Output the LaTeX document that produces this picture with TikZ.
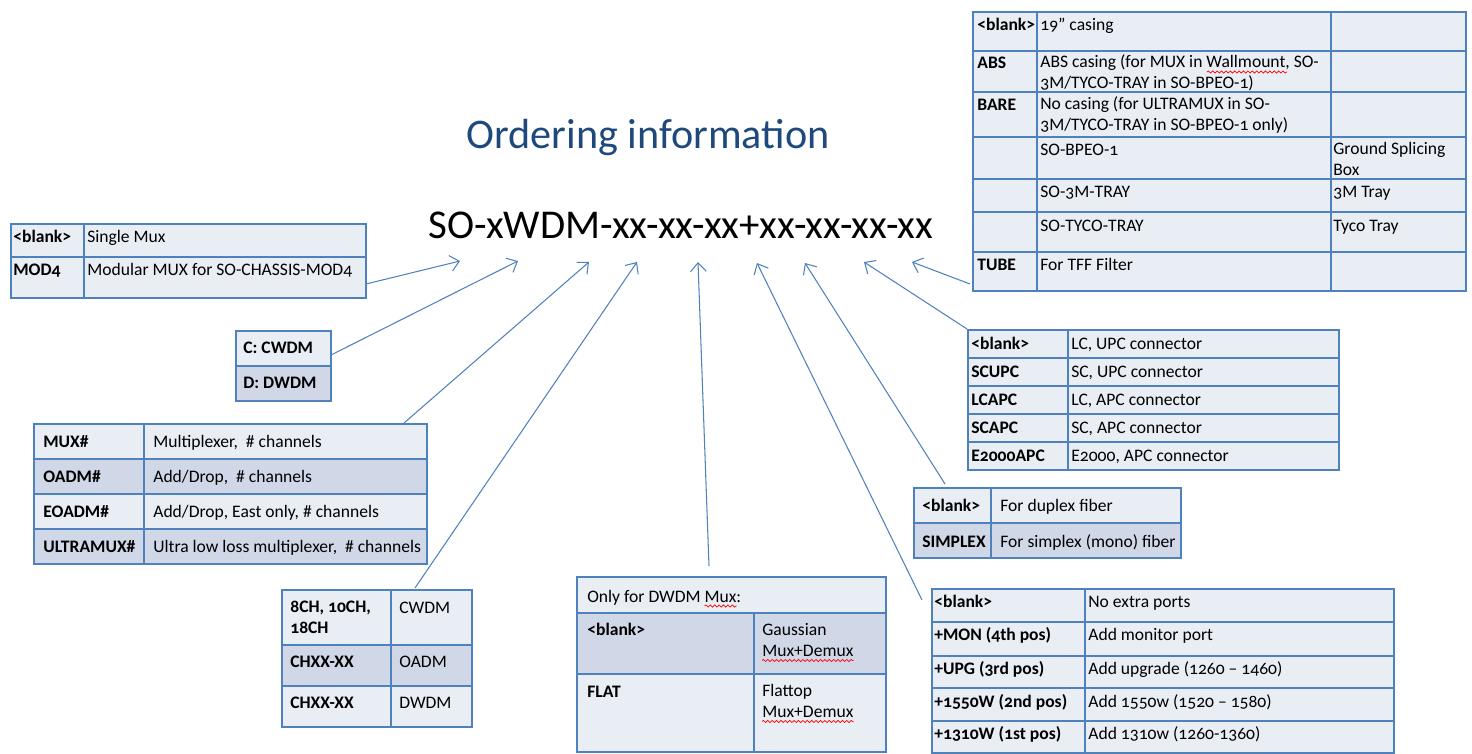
\documentclass[tikz,border=0pt]{standalone}
\usepackage{fontspec}
\setmainfont{Carlito}[Numbers=OldStyle]
\usetikzlibrary{arrows.meta,calc,decorations.pathmorphing}
\definecolor{tblue}{RGB}{79,129,189}
\definecolor{tlight}{RGB}{233,237,244}
\definecolor{tdark}{RGB}{208,216,232}
\definecolor{ttitle}{RGB}{31,73,125}
\tikzset{tline/.style={draw=tblue,line width=1.1pt}}
\tikzset{light/.style={fill=tlight}}
\tikzset{dark/.style={fill=tdark}}
\tikzset{txt/.style={anchor=base west,inner sep=0pt,align=left,font=\fontsize{10}{11.4}\selectfont}}
\tikzset{hd/.style={txt,font=\fontsize{10}{11.4}\selectfont\bfseries}}
\tikzset{link/.style={-{Straight Barb[length=5pt,width=9pt]},draw=tblue,line width=0.6pt}}
\tikzset{spell/.style={draw=red,line width=0.4pt,decorate,decoration={snake,amplitude=0.6pt,segment length=2.5pt}}}

\begin{document}
\begin{tikzpicture}[x=0.02cm,y=-0.02cm]
  \useasboundingbox (0,0) rectangle (1472,754);

  \node[font=\fontsize{24}{28}\selectfont,text=ttitle,anchor=base,inner sep=0pt] (title) at (648,148) {Ordering information};
  \node[font=\fontsize{23.3}{26}\selectfont,anchor=base west,inner sep=0pt] (code) at (428,238) {SO-xWDM-xx-xx-xx+xx-xx-xx-xx};

  % mux type
  \fill[light] (11,224) rectangle (366,298);
  \draw[tline] (11,224) rectangle (366,298) (84,224) -- (84,298) (11,257) -- (366,257);
  \node[hd] (mtA1) at (13,242) {<blank>};
  \node[txt] (mtB1) at (87,242) {Single Mux};
  \node[hd] (mtA2) at (13,275) {MOD4};
  \node[txt] (mtB2) at (87,275) {Modular MUX for SO-CHASSIS-MOD4};

  % technology
  \fill[light] (236,331) rectangle (331,366);
  \fill[dark] (236,366) rectangle (331,401);
  \draw[tline] (236,331) rectangle (331,401) (236,366) -- (331,366);
  \node[hd] (tech1) at (243,353) {C: CWDM};
  \node[hd] (tech2) at (243,388) {D: DWDM};

  % function
  \fill[light] (34,424) rectangle (427,564);
  \fill[dark] (34,459) rectangle (427,494) (34,529) rectangle (427,564);
  \draw[tline] (34,424) rectangle (427,564) (144,424) -- (144,564);
  \foreach \y in {459,494,529}
    \draw[tline] (34,\y) -- (427,\y);
  \node[hd] (fnA1) at (43,447) {MUX\#};
  \node[txt] (fnB1) at (153,447) {Multiplexer, \ \# channels};
  \node[hd] (fnA2) at (43,482) {OADM\#};
  \node[txt] (fnB2) at (153,482) {Add/Drop, \ \# channels};
  \node[hd] (fnA3) at (43,517) {EOADM\#};
  \node[txt] (fnB3) at (153,517) {Add/Drop, East only, \# channels};
  \node[hd] (fnA4) at (43,552) {ULTRAMUX\#};
  \node[txt] (fnB4) at (153,552) {Ultra low loss multiplexer, \ \# channels};

  % channels
  \fill[light] (282,590) rectangle (472,727);
  \fill[dark] (282,645) rectangle (472,686);
  \draw[tline] (282,590) rectangle (472,727) (391,590) -- (391,727)
    (282,645) -- (472,645) (282,686) -- (472,686);
  \node[hd] (chA1) at (290,633) {8CH, 10CH,\\18CH};
  \node[txt] (chB1) at (399,613) {CWDM};
  \node[hd] (chA2) at (290,667) {CHXX-XX};
  \node[txt] (chB2) at (399,667) {OADM};
  \node[hd] (chA3) at (290,708) {CHXX-XX};
  \node[txt] (chB3) at (399,708) {DWDM};

  % filter shape
  \fill[light] (577,577) rectangle (886,752);
  \fill[dark] (577,613) rectangle (886,674);
  \draw[tline] (577,577) rectangle (886,752) (577,613) -- (886,613)
    (577,674) -- (886,674) (754,613) -- (754,752);
  \node[txt] (flt0) at (587,602) {Only for DWDM Mux:};
  \node[hd] (fltA1) at (587,635) {<blank>};
  \node[txt] (fltB1) at (762,656) {Gaussian\\Mux+Demux};
  \node[hd] (fltA2) at (587,697) {FLAT};
  \node[txt] (fltB2) at (762,717) {Flattop\\Mux+Demux};

  % connector
  \fill[light] (968,330) rectangle (1339,470);
  \draw[tline] (968,330) rectangle (1339,470) (1068,330) -- (1068,470);
  \foreach \y in {358,386,414,442}
    \draw[tline] (968,\y) -- (1339,\y);
  \foreach \a/\b [count=\i] in {<blank>/{LC, UPC connector},SCUPC/{SC, UPC connector},
      LCAPC/{LC, APC connector},SCAPC/{SC, APC connector},E2000APC/{E2000, APC connector}}{
    \node[hd] (conA\i) at (971,321+28*\i) {\a};
    \node[txt] (conB\i) at (1071,321+28*\i) {\b};
  }

  % fiber
  \fill[light] (914,488) rectangle (1181,523);
  \fill[dark] (914,523) rectangle (1181,558);
  \draw[tline] (914,488) rectangle (1181,558) (991,488) -- (991,558) (914,523) -- (1181,523);
  \node[hd] (fibA1) at (922,511) {<blank>};
  \node[txt] (fibB1) at (1000,511) {For duplex fiber};
  \node[hd] (fibA2) at (922,547) {SIMPLEX};
  \node[txt] (fibB2) at (1000,547) {For simplex (mono) fiber};

  % extra ports
  \fill[light] (932,589) rectangle (1394,753);
  \draw[tline] (932,589) rectangle (1394,753) (1085,589) -- (1085,753);
  \foreach \y in {622,656,688,721}
    \draw[tline] (932,\y) -- (1394,\y);
  \node[hd] (prtA1) at (934,607) {<blank>};
  \node[txt] (prtB1) at (1088,607) {No extra ports};
  \node[hd] (prtA2) at (934,640) {+MON (4th pos)};
  \node[txt] (prtB2) at (1088,640) {Add monitor port};
  \node[hd] (prtA3) at (934,674) {+UPG (3rd pos)};
  \node[txt] (prtB3) at (1088,674) {Add upgrade (1260 -- 1460)};
  \node[hd] (prtA4) at (934,707) {+1550W (2nd pos)};
  \node[txt] (prtB4) at (1088,707) {Add 1550w (1520 -- 1580)};
  \node[hd] (prtA5) at (934,739) {+1310W (1st pos)};
  \node[txt] (prtB5) at (1088,739) {Add 1310w (1260-1360)};

  % casing
  \fill[light] (973,12) rectangle (1466,291);
  \draw[tline] (973,12) rectangle (1466,291) (1037,12) -- (1037,291) (1331,12) -- (1331,291);
  \foreach \y in {51,92,137,179,212,252}
    \draw[tline] (973,\y) -- (1466,\y);
  \node[hd] (casA1) at (977,30) {<blank>};
  \node[txt] (casB1) at (1040,30) {19” casing};
  \node[hd] (casA2) at (977,68) {ABS};
  \node[txt] (casB2) at (1040,88) {ABS casing (for MUX in Wallmount, SO-\\3M/TYCO-TRAY in SO-BPEO-1)};
  \node[hd] (casA3) at (977,110) {BARE};
  \node[txt] (casB3) at (1040,130) {No casing (for ULTRAMUX in SO-\\3M/TYCO-TRAY in SO-BPEO-1 only)};
  \node[txt] (casB4) at (1040,155) {SO-BPEO-1};
  \node[txt] (casC4) at (1333,175) {Ground Splicing\\Box};
  \node[txt] (casB5) at (1040,197) {SO-3M-TRAY};
  \node[txt] (casC5) at (1333,197) {3M Tray};
  \node[txt] (casB6) at (1040,231) {SO-TYCO-TRAY};
  \node[txt] (casC6) at (1333,231) {Tyco Tray};
  \node[hd] (casA7) at (977,270) {TUBE};
  \node[txt] (casB7) at (1040,270) {For TFF Filter};

  % spelling marks
  \draw[spell] ($(casB2.base west)+(167,-16)$) -- +(80,0);
  \draw[spell] ($(flt0.base east)+(-37,4)$) -- +(32,0);
  \draw[spell] ($(fltB1.south west)+(0,4)$) -- ($(fltB1.south east)+(0,4)$);
  \draw[spell] ($(fltB2.south west)+(0,4)$) -- ($(fltB2.south east)+(0,4)$);

  % arrows to the code
  \foreach \n/\x/\y in {1/366/284,2/331/355,3/404/423,4/415/588,5/709/566,
      6/922/600,7/945/484,8/967/329,9/970/284}
    \coordinate (from\n) at (\x,\y);
  \foreach \n/\x/\y in {1/460/261,2/518/261,3/589/262,4/637/262,5/698/262,
      6/757/263,7/805/263,8/864/262,9/912/262}
    \coordinate (tip\n) at (\x,\y);
  \foreach \n in {1,...,9}
    \draw[link] (from\n) -- (tip\n);
\end{tikzpicture}
\end{document}
